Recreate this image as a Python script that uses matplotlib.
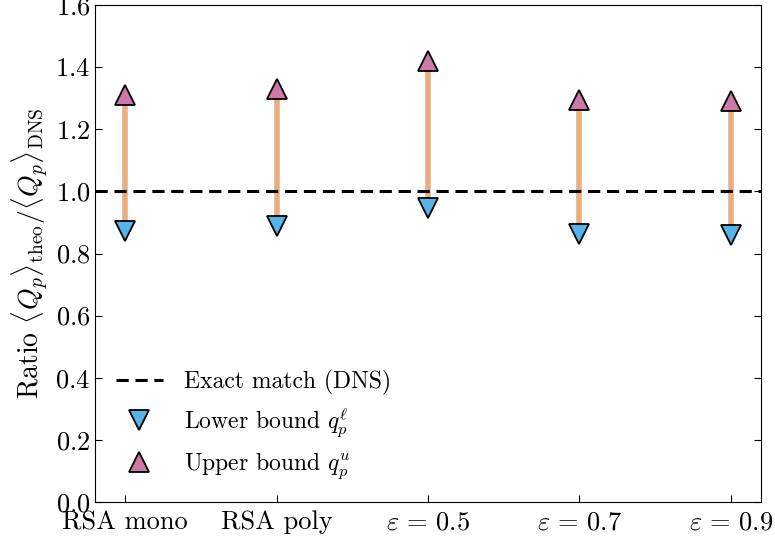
import numpy as np
import matplotlib.pyplot as plt

# data
labels = ['RSA mono', 'RSA poly', r'$\varepsilon\,=\,0.5$', r'$\varepsilon\,=\,0.7$', r'$\varepsilon\,=\,0.9$']
lower = [0.873, 0.887, 0.945, 0.864, 0.860]
upper = [1.310, 1.330, 1.420, 1.295, 1.290]

plt.rcParams['font.family'] = 'serif'
plt.rcParams['font.serif'] = ['cmr10', 'DejaVu Serif']
plt.rcParams['mathtext.fontset'] = 'cm'
plt.rcParams['axes.formatter.use_mathtext'] = True
plt.rcParams['axes.unicode_minus'] = False

fig = plt.figure(figsize=(7.75, 5.49), dpi=100)
ax = fig.add_axes([0.1226, 0.0856, 0.8594, 0.9053])

x = np.arange(len(labels))

# connecting bars between bounds
ax.vlines(x, lower, upper, color='#D55E00', alpha=0.5, linewidth=4, zorder=2)

ax.axhline(1.0, color='black', linestyle='--', linewidth=2.2, dashes=(4, 2.2),
           label='Exact match (DNS)', zorder=3)
ax.plot(x, lower, linestyle='none', marker='v', markersize=14, color='#56B4E9',
        markeredgecolor='black', markeredgewidth=1.3, label=r'Lower bound $q_p^\ell$', zorder=4)
ax.plot(x, upper, linestyle='none', marker='^', markersize=14, color='#CC79A7',
        markeredgecolor='black', markeredgewidth=1.3, label=r'Upper bound $q_p^u$', zorder=4)

ax.set_xlim(-0.2, 4.2)
ax.set_ylim(0, 1.6)
ax.set_xticks(x)
ax.set_xticklabels(labels)
ax.set_yticks(np.arange(0, 1.61, 0.2))
ax.tick_params(axis='both', direction='in', labelsize=19, length=5)
ax.tick_params(axis='x', pad=6)
ax.tick_params(axis='y', right=True)
ax.set_ylabel(r'Ratio $\langle Q_p\rangle_{\rm theo}/\langle Q_p\rangle_{\rm DNS}$', fontsize=20, labelpad=4)

ax.legend(loc='lower left', frameon=False, fontsize=17, borderaxespad=0.47, labelspacing=0.48,
          handlelength=2.0, handletextpad=0.9)

fig.savefig('out.png', dpi=100)
